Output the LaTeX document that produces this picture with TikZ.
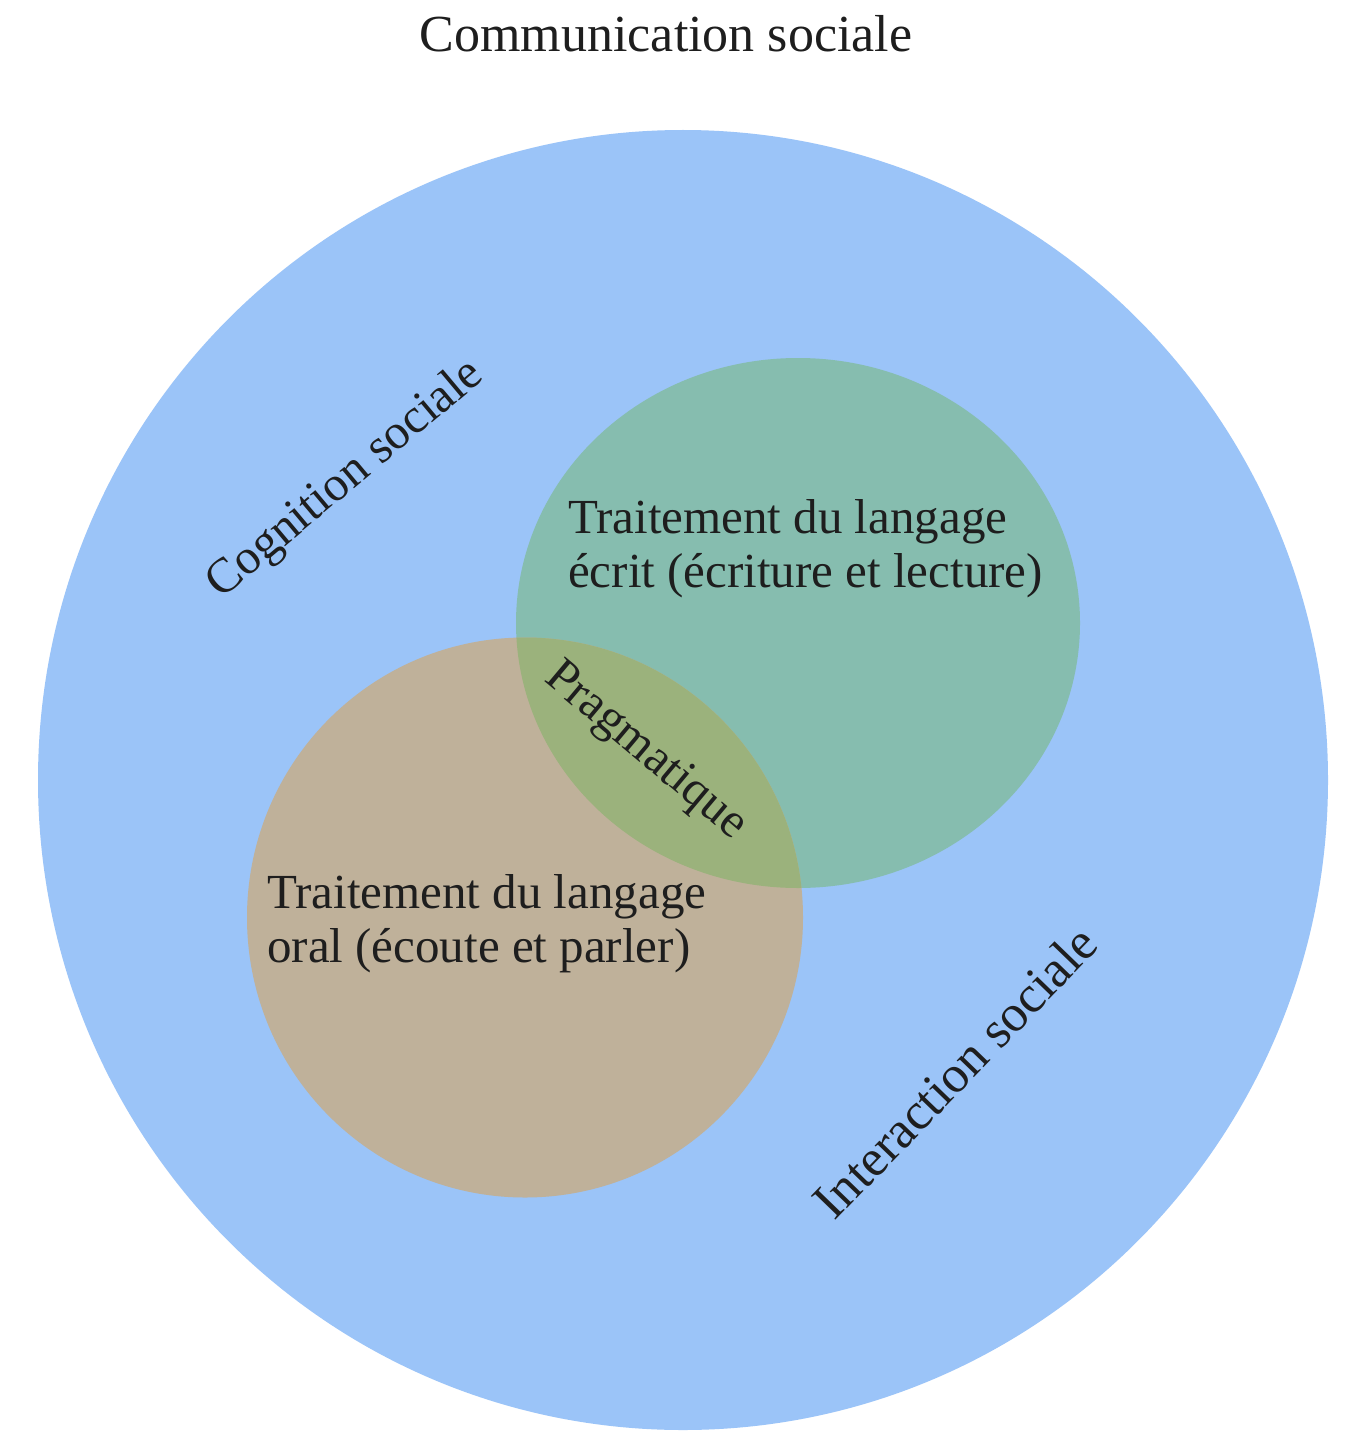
\documentclass[tikz,border=0pt]{standalone}
\usepackage{fontspec}
\setmainfont{Liberation Serif}
\definecolor{bigblue}{HTML}{9BC4F8}
\definecolor{ecritgreen}{HTML}{86BDAF}
\definecolor{oraltan}{HTML}{BFB19A}
\definecolor{overlapgreen}{HTML}{9BB27C}
\definecolor{inkdark}{HTML}{1E1E1E}
\tikzset{
  lbl/.style={font=\fontsize{49}{54}\selectfont, text=inkdark, inner sep=0pt},
  ttl/.style={font=\fontsize{52}{58}\selectfont, text=inkdark, inner sep=0pt}
}
\begin{document}
\begin{tikzpicture}[x=1pt,y=-1pt]
\useasboundingbox (0,0) rectangle (1344,1431);
\fill[white] (0,0) rectangle (1344,1431);
% outer circle
\fill[bigblue] (683,780) ellipse [x radius=645, y radius=650];
% written language ellipse
\fill[ecritgreen] (798,623) ellipse [x radius=282, y radius=265];
% oral language ellipse
\fill[oraltan] (525,917.5) ellipse [x radius=278, y radius=280];
% overlap
\begin{scope}
\clip (798,623) ellipse [x radius=282, y radius=265];
\fill[overlapgreen] (525,917.5) ellipse [x radius=278, y radius=280];
\end{scope}
% labels
\node[ttl, anchor=base] (title) at (666,52) {Communication sociale};
\node[lbl, rotate=40] (cog) at (346,480) {Cognition sociale};
\node[lbl, rotate=46, font=\fontsize{52}{56}\selectfont] (inter) at (955,1072) {Interaction sociale};
\node[lbl, rotate=-40] (prag) at (645,752) {Pragmatique};
\node[lbl, anchor=base west] (ecrit1) at (568,533) {Traitement du langage};
\node[lbl, anchor=base west] (ecrit2) at (568,587) {écrit (écriture et lecture)};
\node[lbl, anchor=base west] (oral1) at (267,908) {Traitement du langage};
\node[lbl, anchor=base west] (oral2) at (267,962) {oral (écoute et parler)};
\end{tikzpicture}
\end{document}
